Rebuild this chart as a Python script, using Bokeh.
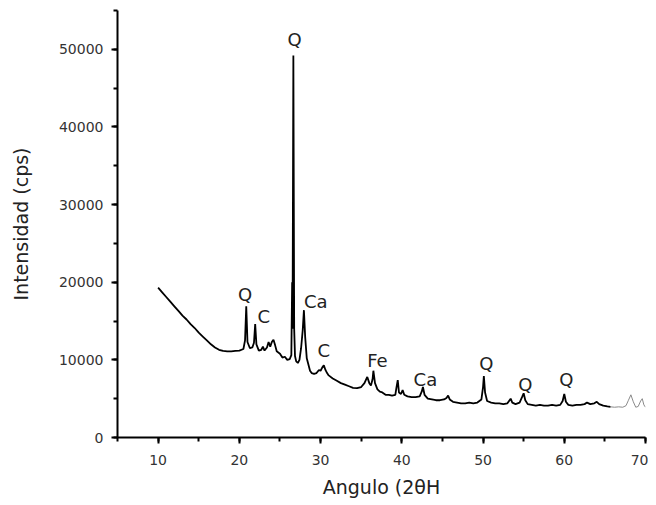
from bokeh.plotting import figure
from bokeh.models import ColumnDataSource, SingleIntervalTicker, Range1d
from bokeh.core.properties import value
from bokeh.embed import file_html
from bokeh.resources import INLINE

# Main diffractogram (2theta, counts)
angle = [10.0, 10.5, 11.0, 11.5, 12.0, 12.5, 13.0, 13.5, 14.0, 14.5, 15.0, 15.5, 16.0, 16.5,
         17.0, 17.5, 18.0, 18.5, 19.0, 19.5, 20.0, 20.5, 20.7, 20.85, 21.0, 21.3, 21.6, 21.8,
         21.95, 22.1, 22.4, 22.7, 22.9, 23.1, 23.4, 23.6, 23.8, 24.0, 24.2, 24.4, 24.6, 25.0,
         25.3, 25.6, 25.9, 26.2, 26.4, 26.5, 26.55, 26.65, 26.75, 26.85, 27.0, 27.2, 27.4,
         27.6, 27.8, 27.95, 28.1, 28.3, 28.5, 28.7, 28.9, 29.2, 29.5, 29.8, 30.0, 30.2, 30.4,
         30.6, 30.8, 31.0, 31.5, 32.0, 32.5, 33.0, 33.5, 34.0, 34.5, 35.0, 35.4, 35.75, 36.0,
         36.2, 36.4, 36.5, 36.7, 37.0, 37.3, 37.6, 38.0, 38.4, 38.8, 39.2, 39.35, 39.5, 39.65,
         39.9, 40.1, 40.3, 40.7, 41.2, 41.7, 42.2, 42.45, 42.6, 42.8, 43.2, 43.7, 44.2, 44.7,
         45.2, 45.5, 45.7, 45.9, 46.3, 46.8, 47.3, 47.8, 48.3, 48.8, 49.3, 49.8, 50.0, 50.1,
         50.25, 50.5, 51.0, 51.5, 52.0, 52.5, 53.0, 53.2, 53.4, 53.6, 54.0, 54.5, 54.8, 55.0,
         55.2, 55.5, 56.0, 56.5, 57.0, 57.5, 58.0, 58.5, 59.0, 59.5, 59.8, 60.0, 60.2, 60.5,
         61.0, 61.5, 62.0, 62.5, 62.8, 63.2, 63.7, 64.0, 64.3, 64.8, 65.3, 65.7]
counts = [19300, 18700, 18100, 17500, 16900, 16300, 15700, 15200, 14600, 14100, 13500, 13000,
          12500, 12000, 11600, 11300, 11150, 11100, 11100, 11150, 11200, 11400, 12500, 16900,
          12300, 11500, 11600, 12200, 14600, 12000, 11200, 11300, 11700, 11200, 11600, 12300,
          11700, 12300, 12600, 11900, 11100, 10800, 10300, 10400, 10000, 10100, 10600, 20000,
          14000, 49200, 14000, 10500, 9800, 9600, 10000, 11500, 13800, 16400, 13000, 10200,
          9400, 8600, 8300, 8200, 8300, 8700, 8600, 9000, 9300, 8700, 8300, 8000, 7600, 7300,
          7000, 6800, 6600, 6400, 6350, 6500, 7000, 7800, 7000, 6700, 7500, 8600, 7000, 6200,
          5900, 5800, 5500, 5500, 5400, 5500, 6500, 7400, 5800, 5600, 6100, 5500, 5300, 5200,
          5200, 5300, 5900, 6500, 5500, 5000, 4900, 4800, 4800, 4900, 5100, 5400, 4900, 4600,
          4500, 4400, 4400, 4500, 4400, 4500, 4900, 6500, 7900, 5800, 4700, 4500, 4400, 4400,
          4300, 4400, 4700, 5000, 4500, 4300, 4500, 5200, 5700, 4800, 4300, 4200, 4100, 4200,
          4100, 4100, 4200, 4100, 4200, 4700, 5600, 4600, 4200, 4100, 4200, 4200, 4300, 4500,
          4300, 4400, 4600, 4300, 4100, 4000, 3950]

# Faint tail of the scan
tail_angle = [65.7, 66.2, 66.7, 67.2, 67.6, 67.9, 68.2, 68.5, 68.8, 69.1, 69.4, 69.6, 69.8, 70.0]
tail_counts = [3950, 3900, 3950, 3900, 4100, 4800, 5500, 4600, 3900, 4000, 4700, 5000, 4200, 3900]

# Phase labels
label_text = ["Q", "Q", "C", "Ca", "C", "Fe", "Ca", "Q", "Q", "Q"]
label_x = [26.8, 20.7, 23.0, 29.4, 30.4, 37.0, 42.9, 50.4, 55.2, 60.25]
label_y = [51300, 18400, 15600, 17500, 11150, 9870, 7520, 9530, 6880, 7520]

p = figure(width=648, height=505, output_backend="svg", toolbar_location=None,
           x_range=Range1d(5, 70), y_range=Range1d(0, 55000))
p.min_border_left = 117
p.min_border_right = 3
p.min_border_top = 10
p.min_border_bottom = 68
p.outline_line_color = None
p.xgrid.visible = False
p.ygrid.visible = False
p.background_fill_color = "white"
p.border_fill_color = "white"

p.line(angle, counts, line_color="black", line_width=1.8)
p.line(tail_angle, tail_counts, line_color="#8a8a8a", line_width=1)

src = ColumnDataSource(dict(x=label_x, y=label_y, t=label_text))
p.text(x="x", y="y", text="t", source=src, text_align="center", text_baseline="middle",
       text_font=value("DejaVu Sans"), text_font_size="18px", text_color="#222222")

p.xaxis.ticker = SingleIntervalTicker(interval=10, num_minor_ticks=2)
p.yaxis.ticker = SingleIntervalTicker(interval=10000, num_minor_ticks=2)
for ax in (p.xaxis[0], p.yaxis[0]):
    ax.axis_line_width = 2
    ax.axis_line_color = "black"
    ax.major_tick_line_width = 2
    ax.minor_tick_line_width = 2
    ax.major_tick_out = 6
    ax.major_tick_in = 0
    ax.minor_tick_out = 4
    ax.minor_tick_in = 0
    ax.major_label_text_font = "DejaVu Sans"
    ax.major_label_text_font_size = "14px"
    ax.major_label_text_color = "#333333"
    ax.axis_label_text_font = "DejaVu Sans"
    ax.axis_label_text_font_size = "19px"
    ax.axis_label_text_font_style = "normal"
    ax.axis_label_text_color = "#222222"

p.xaxis.axis_label = "Angulo (2θH"
p.yaxis.axis_label = "Intensidad (cps)"
p.xaxis.major_label_standoff = 11
p.yaxis.major_label_standoff = 8
p.xaxis.axis_label_standoff = 8
p.yaxis.axis_label_standoff = 24

open("out.html", "w").write(file_html(p, INLINE))
